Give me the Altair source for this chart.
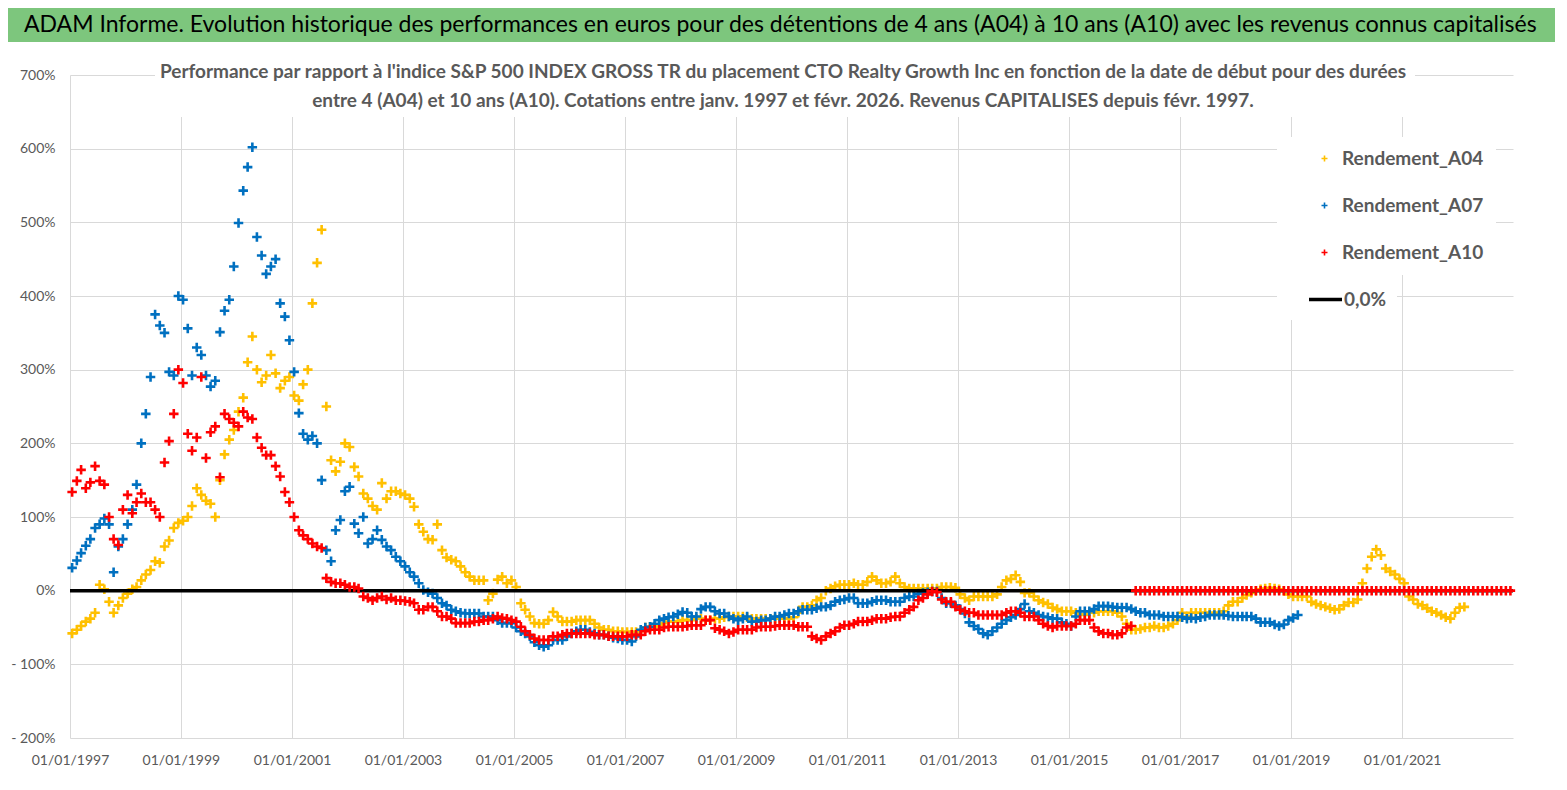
import altair as alt
import pandas as pd

# ---- data (monthly readings, % performance) ----
SERIES = ["Rendement_A04", "Rendement_A07", "Rendement_A10"]
COLORS = ["#FFC000", "#0070C0", "#FF0000"]

a04 = [
    -58, -53, -48, -42, -38, -30, 8, 2, -15, -30, -20, -10,          # 1997
    -4, 2, 5, 14, 22, 28, 40, 38, 60, 68, 85, 92,                    # 1998
    95, 100, 115, 139, 130, 122, 118, 100, 150, 185, 205, 218,       # 1999
    243, 262, 310, 345, 300, 283, 292, 320, 295, 275, 285, 290,      # 2000
    265, 258, 280, 300, 390, 445, 490, 250, 177, 162, 175, 200,      # 2001
    195, 168, 155, 132, 125, 115, 110, 146, 125, 135, 135, 132,      # 2002
    130, 125, 114, 90, 80, 70, 69, 90, 55, 45, 42, 40,               # 2003
    33, 25, 19, 14, 14, 14, -13, -4, 15, 19, 10, 14,                 # 2004
    5, -17, -26, -35, -44, -45, -45, -40, -29, -35, -42, -42,        # 2005
    -42, -40, -40, -40, -40, -45, -50, -53, -53, -55, -55, -56,      # 2006
    -56, -56, -56, -55, -50, -49, -49, -47, -44, -42, -42, -42,      # 2007
    -40, -40, -40, -38, -38, -40, -40, -38, -38, -36, -35, -35,      # 2008
    -35, -35, -36, -38, -38, -38, -38, -38, -38, -38, -38, -38,      # 2009
    -36, -30, -22, -22, -20, -13, -10, 0, 3, 6, 8, 8,                # 2010
    8, 10, 8, 8, 12, 19, 14, 10, 10, 12, 19, 10,                     # 2011
    5, 3, 3, 3, 3, 3, 3, 3, 5, 5, 5, 4,                              # 2012
    -5, -10, -13, -8, -8, -8, -8, -8, -5, 5, 14, 16,                 # 2013
    21, 12, -3, -3, -8, -13, -16, -18, -23, -25, -28, -28,           # 2014
    -28, -30, -32, -33, -30, -30, -28, -28, -28, -28, -30, -35,      # 2015
    -45, -53, -53, -52, -50, -50, -48, -50, -50, -48, -45, -40,      # 2016
    -30, -35, -30, -30, -30, -30, -30, -30, -30, -28, -20, -15,      # 2017
    -15, -10, -6, -3, 0, 2, 3, 4, 3, 2, 0, -5,                       # 2018
    -8, -8, -8, -8, -15, -18, -20, -22, -24, -26, -25, -20,          # 2019
    -16, -16, -12, 10, 30, 46, 56, 48, 30, 26, 22, 16,               # 2020
    10, -8, -12, -18, -20, -24, -28, -30, -33, -36, -38, -30,        # 2021
    -23, -22,                                                        # 2022
]

a07 = [
    31, 41, 51, 61, 70, 85, 90, 98, 90, 25, 60, 70,                  # 1997
    90, 110, 144, 200, 240, 290, 375, 360, 350, 297, 292, 400,       # 1998
    395, 356, 292, 330, 320, 292, 277, 285, 351, 380, 395, 440,      # 1999
    499, 543, 575, 602, 480, 455, 430, 440, 450, 390, 372, 340,      # 2000
    297, 241, 213, 205, 210, 200, 150, 55, 40, 82, 96, 135,          # 2001
    141, 91, 78, 100, 64, 70, 82, 69, 60, 55, 46, 40,                # 2002
    33, 25, 19, 10, 1, -2, -4, -10, -17, -20, -26, -28,              # 2003
    -30, -31, -31, -31, -31, -35, -35, -35, -40, -44, -44, -44,      # 2004
    -50, -55, -58, -62, -70, -74, -76, -74, -67, -67, -67, -62,      # 2005
    -58, -55, -53, -53, -56, -58, -60, -60, -62, -64, -65, -67,      # 2006
    -67, -69, -62, -53, -50, -49, -45, -40, -38, -36, -35, -32,      # 2007
    -29, -30, -35, -35, -25, -22, -22, -28, -31, -31, -35, -38,      # 2008
    -40, -38, -35, -42, -42, -40, -40, -38, -35, -35, -33, -31,      # 2009
    -31, -28, -26, -26, -26, -24, -22, -22, -20, -15, -13, -12,      # 2010
    -10, -10, -17, -17, -17, -15, -13, -13, -13, -15, -15, -15,      # 2011
    -10, -8, -8, -4, -3, -2, -1, -1, -10, -17, -17, -20,             # 2012
    -25, -31, -43, -48, -52, -58, -60, -55, -50, -45, -40, -36,      # 2013
    -33, -25, -18, -28, -30, -33, -35, -36, -38, -38, -43, -45,      # 2014
    -48, -35, -28, -28, -28, -25, -21, -21, -21, -22, -23, -23,      # 2015
    -23, -25, -28, -30, -30, -33, -33, -33, -35, -35, -35, -35,      # 2016
    -36, -38, -37, -38, -36, -35, -33, -33, -33, -33, -34, -35,      # 2017
    -35, -35, -35, -35, -38, -43, -43, -43, -46, -48, -46, -40,      # 2018
    -37, -33,                                                        # 2019
]

a10 = [
    134, 149, 164, 139, 147, 169, 149, 144, 100, 70, 62, 110,        # 1997
    130, 105, 120, 132, 120, 120, 110, 100, 174, 203, 240, 300,      # 1998
    282, 213, 190, 208, 290, 180, 215, 223, 154, 240, 233, 228,      # 1999
    223, 243, 235, 233, 208, 194, 184, 184, 169, 155, 134, 120,      # 2000
    100, 82, 75, 70, 64, 60, 58, 17, 12, 10, 10, 8,                  # 2001
    5, 5, 3, -8, -10, -13, -10, -8, -12, -10, -13, -13,              # 2002
    -14, -15, -17, -26, -26, -22, -22, -28, -35, -35, -38, -44,      # 2003
    -44, -44, -44, -42, -42, -40, -40, -38, -35, -37, -38, -40,      # 2004
    -42, -49, -55, -60, -65, -67, -67, -67, -62, -62, -60, -58,      # 2005
    -58, -58, -58, -58, -58, -60, -60, -60, -62, -62, -62, -62,      # 2006
    -62, -60, -60, -60, -55, -53, -53, -53, -50, -49, -49, -49,      # 2007
    -49, -48, -47, -47, -47, -40, -40, -51, -53, -55, -58, -56,      # 2008
    -53, -53, -53, -53, -50, -49, -49, -49, -48, -47, -47, -47,      # 2009
    -47, -49, -49, -49, -62, -65, -67, -62, -58, -55, -50, -47,      # 2010
    -47, -45, -42, -42, -42, -40, -38, -38, -38, -36, -35, -35,      # 2011
    -30, -26, -22, -13, -10, -5, -1, -2, -12, -15, -15, -22,         # 2012
    -26, -28, -30, -30, -33, -33, -33, -33, -33, -33, -30, -28,      # 2013
    -28, -30, -35, -35, -35, -40, -45, -48, -50, -48, -48, -48,      # 2014
    -48, -45, -40, -40, -40, -50, -55, -58, -58, -60, -60, -58,      # 2015
    -50, -48, 0, 0, 0, 0, 0, 0, 0, 0, 0, 0,                          # 2016
    0, 0, 0, 0, 0, 0, 0, 0, 0, 0, 0, 0,                              # 2017
    0, 0, 0, 0, 0, 0, 0, 0, 0, 0, 0, 0,                              # 2018
    0, 0, 0, 0, 0, 0, 0, 0, 0, 0, 0, 0,                              # 2019
    0, 0, 0, 0, 0, 0, 0, 0, 0, 0, 0, 0,                              # 2020
    0, 0, 0, 0, 0, 0, 0, 0, 0, 0, 0, 0,                              # 2021
    0, 0, 0, 0, 0, 0, 0, 0, 0, 0, 0, 0,                              # 2022
]

ZERO_LABEL = "0,0%"
ZERO_VALUE = [0]
TITLE = ("ADAM Informe. Evolution historique des performances en euros pour des "
         "détentions de 4 ans (A04) à 10 ans (A10) avec les revenus connus capitalisés")
SUBTITLE = [
    "Performance par rapport à l'indice S&P 500 INDEX GROSS TR  du placement CTO Realty Growth Inc en fonction de la date de début pour des durées",
    "entre 4 (A04) et 10 ans (A10). Cotations entre janv. 1997 et févr. 2026. Revenus CAPITALISES depuis févr. 1997.",
]
Y_TICKS = list(range(-200, 701, 100))
X_TICK_YEARS = list(range(1997, 2022, 2))


def frame(name, vals):
    d = pd.date_range("1997-01-01", periods=len(vals), freq="MS") + pd.Timedelta(days=14)
    return pd.DataFrame({"date": d, "value": vals, "series": name})


df = pd.concat([frame(SERIES[0], a04), frame(SERIES[1], a07), frame(SERIES[2], a10)],
               ignore_index=True)
zero_df = pd.DataFrame({"v": ZERO_VALUE, "lab": [ZERO_LABEL]})

FONT = "Lato"
GRAY = "#595959"
PLUS = "M-1,0L1,0M0,-1L0,1"
W, H = 1443, 663
MARK_SIZE = 90
MARK_STROKE = 2.6

x_enc = alt.X(
    "date:T",
    scale=alt.Scale(domain=[alt.DateTime(year=1997, month=1, date=1),
                            alt.DateTime(year=2023, month=1, date=1)], nice=False),
    axis=alt.Axis(title=None, values=[alt.DateTime(year=y, month=1, date=1) for y in X_TICK_YEARS],
                  format="%d/%m/%Y", labelFont=FONT, labelFontSize=14, labelColor=GRAY,
                  labelPadding=15, ticks=False, domain=False, grid=True,
                  gridColor="#d9d9d9", gridWidth=1, labelFlush=False),
)
y_enc = alt.Y(
    "value:Q",
    scale=alt.Scale(domain=[-200, 700], nice=False, zero=False),
    axis=alt.Axis(title=None, values=Y_TICKS,
                  labelExpr="datum.value < 0 ? '- ' + abs(datum.value) + '%' : datum.value + '%'",
                  labelFont=FONT, labelFontSize=14, labelColor=GRAY, labelPadding=15,
                  ticks=False, domain=False, grid=True, gridColor="#d9d9d9", gridWidth=1),
)

color_legend = alt.Legend(
    title=None, orient="none", legendX=1207, legendY=62, fillColor="white",
    padding=12, rowPadding=27, symbolSize=36, symbolStrokeWidth=1.6, symbolOffset=26,
    labelOffset=8, labelFont=FONT, labelFontSize=19, labelFontWeight="bold",
    labelColor=GRAY, symbolType=PLUS,
)
color_enc = alt.Color("series:N", scale=alt.Scale(domain=SERIES, range=COLORS), legend=color_legend)

pts_low = alt.Chart(df).transform_filter(
    alt.datum.series != SERIES[2]
).mark_point(shape=PLUS, filled=False, size=MARK_SIZE, strokeWidth=MARK_STROKE, opacity=1).encode(
    x=x_enc, y=y_enc, color=color_enc
)

zero_line = alt.Chart(zero_df).mark_rule(color="black", strokeWidth=3.5).encode(
    y=alt.Y("v:Q"),
    strokeDash=alt.StrokeDash(
        "lab:N",
        scale=alt.Scale(domain=[ZERO_LABEL], range=[[1, 0]]),
        legend=alt.Legend(title=None, orient="none", legendX=1207, legendY=196,
                          fillColor="white", padding=10, symbolSize=1089,
                          symbolStrokeWidth=3.5, symbolStrokeColor="black",
                          symbolType="stroke", symbolOffset=20, labelOffset=0,
                          labelFont=FONT, labelFontSize=19, labelFontWeight="bold",
                          labelColor=GRAY),
    ),
)

pts_top = alt.Chart(df).transform_filter(
    alt.datum.series == SERIES[2]
).mark_point(shape=PLUS, filled=False, size=MARK_SIZE, strokeWidth=MARK_STROKE, opacity=1).encode(
    x=x_enc, y=y_enc, color=color_enc
)

one = pd.DataFrame({"k": [0]})
sub_bg = alt.Chart(one).mark_rect(color="white").encode(
    x=alt.value(85), x2=alt.value(1345), y=alt.value(-16), y2=alt.value(42)
)
sub_txt = alt.Chart(one).mark_text(
    text=SUBTITLE, font=FONT, fontSize=19, fontWeight="bold", color=GRAY,
    lineHeight=29, baseline="top", align="center"
).encode(x=alt.value(713), y=alt.value(-12))

banner = alt.Chart(one).mark_rect(color="#7DC67D").encode(
    x=alt.value(-62), x2=alt.value(1485), y=alt.value(-67), y2=alt.value(-33)
)
banner_txt = alt.Chart(one).mark_text(
    text=TITLE, font=FONT, fontSize=23, color="#000000", baseline="middle", align="left"
).encode(x=alt.value(-46), y=alt.value(-50))

chart = alt.layer(
    pts_low, zero_line, pts_top, sub_bg, sub_txt, banner, banner_txt
).properties(
    width=W, height=H, padding=0, background="white"
).configure_view(stroke=None)

chart.save("out.html", embed_options={"renderer": "svg", "actions": False})
